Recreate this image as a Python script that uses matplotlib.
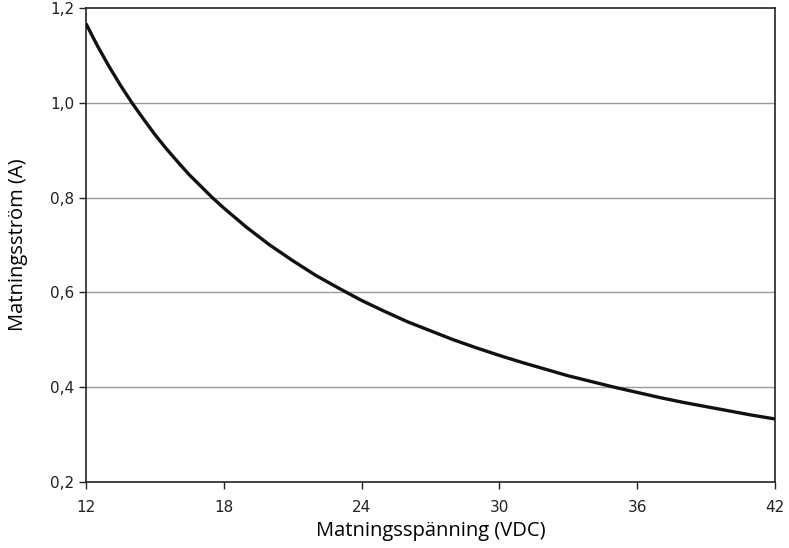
import matplotlib
matplotlib.use("Agg")
import matplotlib.pyplot as plt

voltage = [12, 12.5, 13, 13.5, 14, 14.5, 15, 15.5, 16, 16.5, 17, 17.5, 18, 19, 20, 21, 22, 23, 24,
           25, 26, 27, 28, 29, 30, 31, 32, 33, 34, 35, 36, 37, 38, 39, 40, 41, 42]
current = [1.167, 1.120, 1.077, 1.037, 1.000, 0.966, 0.933, 0.903, 0.875, 0.848, 0.824, 0.800,
           0.778, 0.737, 0.700, 0.667, 0.636, 0.609, 0.583, 0.560, 0.538, 0.519, 0.500, 0.483,
           0.467, 0.452, 0.438, 0.424, 0.412, 0.400, 0.389, 0.378, 0.368, 0.359, 0.350, 0.341, 0.333]
x_ticks = [12, 18, 24, 30, 36, 42]
y_ticks = [0.2, 0.4, 0.6, 0.8, 1.0, 1.2]
y_tick_labels = ["0,2", "0,4", "0,6", "0,8", "1,0", "1,2"]
x_label = "Matningsspänning (VDC)"
y_label = "Matningsström (A)"

fig = plt.figure(figsize=(7.89, 5.48), dpi=100)
ax = fig.add_axes([86/789, 1-482/548, (775-86)/789, (482-8)/548])

for y in y_ticks[1:-1]:
    ax.axhline(y, color="#9a9a9a", lw=1.0, zorder=1)

ax.plot(voltage, current, color="#111111", lw=2.4, zorder=3, solid_capstyle="butt")

ax.set_xlim(12, 42)
ax.set_ylim(0.2, 1.2)
ax.set_xticks(x_ticks)
ax.set_xticklabels([str(v) for v in x_ticks])
ax.set_yticks(y_ticks)
ax.set_yticklabels(y_tick_labels)
for s in ax.spines.values():
    s.set_color("#222222")
    s.set_linewidth(1.2)
ax.tick_params(axis="both", direction="out", length=5, width=1.0, color="#222222",
               labelsize=11, labelcolor="#222222")
ax.tick_params(axis="x", pad=8)
ax.set_xlabel(x_label, fontsize=14.5, family="Open Sans", fontweight="medium", labelpad=4)
ax.set_ylabel(y_label, fontsize=14.5, family="Open Sans", fontweight="medium", labelpad=16)

fig.savefig("out.png", dpi=100)
